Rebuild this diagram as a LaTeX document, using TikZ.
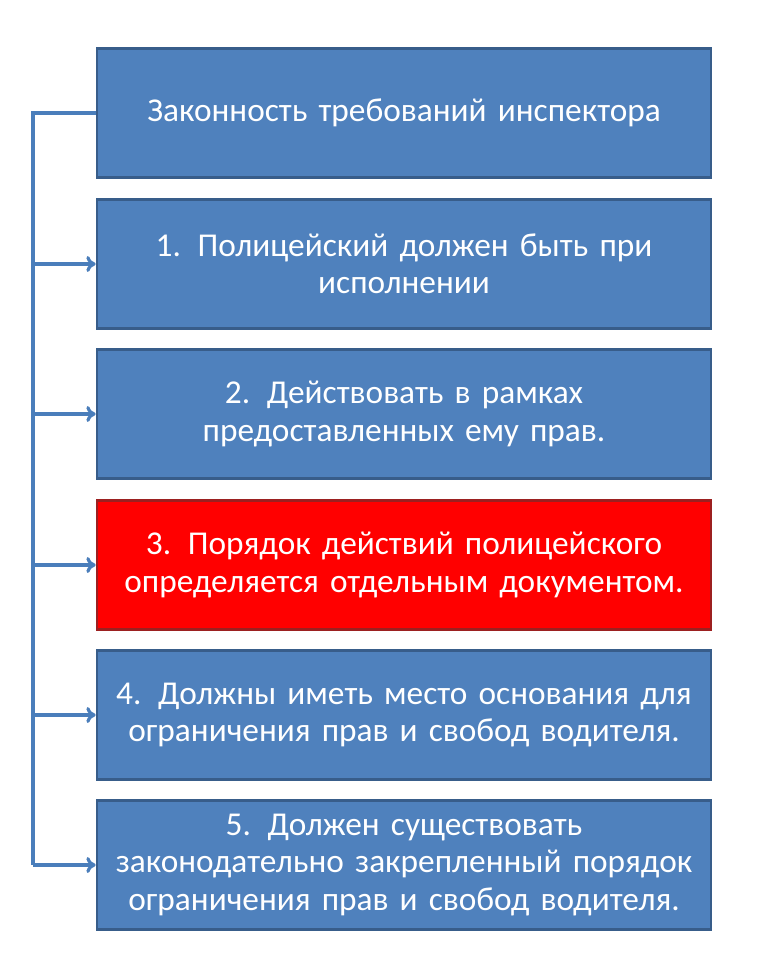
\documentclass[tikz,border=0pt]{standalone}
\usepackage{fontspec}
\setmainfont[WordSpace={0.75,0.3,0.3}]{Carlito}
\usetikzlibrary{arrows.meta}
\definecolor{bfill}{HTML}{4F81BD}
\definecolor{bedge}{HTML}{385D8A}
\definecolor{redge}{HTML}{9C2020}
\definecolor{lcol}{HTML}{4A7EBB}
\tikzset{
  box/.style={draw=bedge, line width=2pt, fill=bfill, minimum width=460.5pt, minimum height=96.75pt,
    text width=450pt, align=center, text=white, font=\fontsize{25}{28}\selectfont, inner sep=0pt},
  redbox/.style={box, fill=red, draw=redge},
  conn/.style={draw=lcol, line width=2.4pt, -{To[length=7pt,width=12pt]}},
  trunk/.style={draw=lcol, line width=2.4pt}
}
\begin{document}
\begin{tikzpicture}[x=0.75pt,y=-0.75pt]
\useasboundingbox (0,0) rectangle (770,964);
\fill[white] (0,0) rectangle (770,964);
\node[box] (b0) at (404,113) {Законность требований инспектора};
\node[box] (b1) at (404,264) {1. Полицейский должен быть при\\исполнении};
\node[box] (b2) at (404,414) {2. Действовать в рамках\\предоставленных ему прав.};
\node[redbox] (b3) at (404,565) {3. Порядок действий полицейского\\определяется отдельным документом.};
\node[box] (b4) at (404,715) {4. Должны иметь место основания для\\ограничения прав и свобод водителя.};
\node[box] (b5) at (404,865) {5. Должен существовать\\законодательно закрепленный порядок\\ограничения прав и свобод водителя.};
\coordinate (t0) at (33,113);
\coordinate (t5) at (33,865);
\draw[trunk] (b0.west) -- (t0) -- (t5);
\foreach \i in {1,...,5} {
  \draw[conn] (t0 |- b\i.west) -- (b\i.west);
}
\end{tikzpicture}
\end{document}
